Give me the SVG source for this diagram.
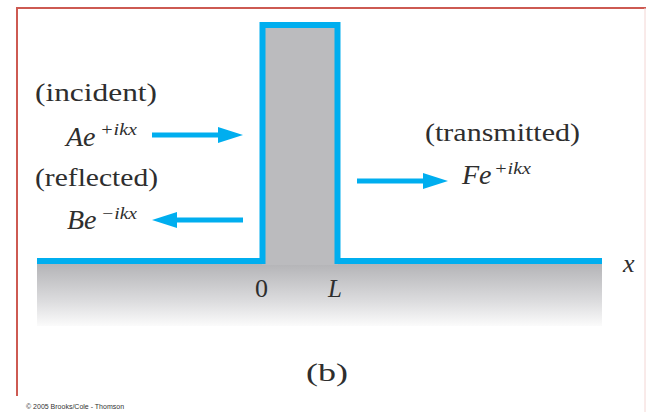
<svg xmlns="http://www.w3.org/2000/svg" width="646" height="412" viewBox="0 0 646 412">
<style>
.lbl{font-family:"Liberation Serif","Times New Roman",serif;font-size:26px;fill:#2e2e2e}
.it{font-family:"Liberation Serif","Times New Roman",serif;font-style:italic;fill:#2e2e2e}
.sup{font-family:"Liberation Serif","Times New Roman",serif;font-style:italic;font-size:17px;fill:#2e2e2e}
.arrow{stroke:#00aeef;stroke-width:5;fill:none;marker-end:url(#ah)}
.copy{font-family:"Liberation Sans",Arial,sans-serif;font-size:7px;fill:#333}
</style>
<defs>
<linearGradient id="floor" x1="0" y1="0" x2="0" y2="1">
<stop offset="0" stop-color="#b4b4b7"/>
<stop offset="0.6" stop-color="#dcdcde"/>
<stop offset="1" stop-color="#fbfbfb"/>
</linearGradient>
<marker id="ah" markerUnits="userSpaceOnUse" markerWidth="25" markerHeight="16" viewBox="0 0 25 16" refX="0" refY="8" orient="auto">
<path d="M0,0 L25,8 L0,16 z" fill="#00aeef"/>
</marker>
</defs>
<rect width="646" height="412" fill="#fff"/>
<g id="frame" fill="none">
<path d="M17,396 V8 H646" stroke="#cd5a52" stroke-width="2"/>
<line x1="645" y1="8" x2="645" y2="412" stroke="#f3d6d4" stroke-width="1"/>
</g>
<g id="potential">
<rect x="37" y="264" width="565" height="62" fill="url(#floor)"/>
<rect x="262" y="25" width="76" height="240" fill="#bbbbbe"/>
<path d="M37,261 H262.5 V25 H337.5 V261 H602" fill="none" stroke="#00aeef" stroke-width="6" stroke-linejoin="miter"/>
</g>
<g id="connectors">
<line class="arrow" x1="152" y1="135" x2="218" y2="135"/>
<line class="arrow" x1="243" y1="220" x2="177" y2="220"/>
<line class="arrow" x1="357" y1="181" x2="423" y2="181"/>
</g>
<g id="incident">
<text class="lbl" x="35" y="101" textLength="122" lengthAdjust="spacingAndGlyphs">(incident)</text>
<text class="it" x="66" y="146" font-size="28">Ae</text>
<text class="sup" x="100" y="135" textLength="37" lengthAdjust="spacingAndGlyphs">+ikx</text>
</g>
<g id="reflected">
<text class="lbl" x="35" y="186" textLength="123" lengthAdjust="spacingAndGlyphs">(reflected)</text>
<text class="it" x="67" y="229" font-size="28">Be</text>
<text class="sup" x="101" y="219" textLength="36" lengthAdjust="spacingAndGlyphs">−ikx</text>
</g>
<g id="transmitted">
<text class="lbl" x="425" y="141" textLength="155" lengthAdjust="spacingAndGlyphs">(transmitted)</text>
<text class="it" x="462" y="184" font-size="28">Fe</text>
<text class="sup" x="494" y="174" textLength="37" lengthAdjust="spacingAndGlyphs">+ikx</text>
</g>
<g id="axis">
<text class="lbl" x="261.5" y="297" text-anchor="middle" font-size="25">0</text>
<text class="it" x="328" y="297" font-size="25">L</text>
<text class="it" x="623" y="272" font-size="26">x</text>
</g>
<text class="lbl" x="327" y="381" text-anchor="middle" font-size="28" textLength="42" lengthAdjust="spacingAndGlyphs">(b)</text>
<text class="copy" x="26" y="409">© 2005 Brooks/Cole - Thomson</text>
</svg>
